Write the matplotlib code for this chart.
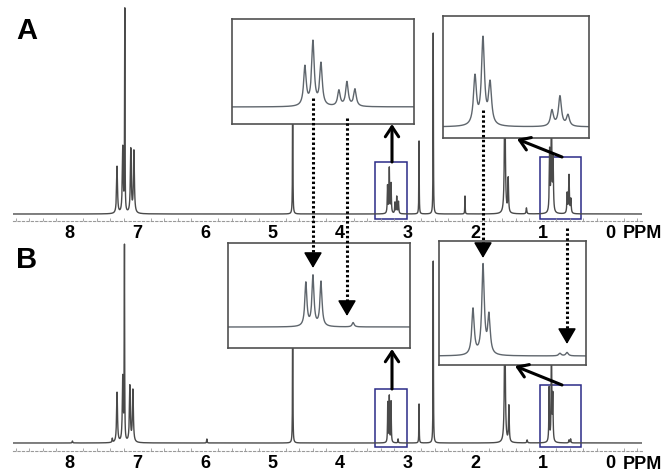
import matplotlib
matplotlib.use('Agg')
import matplotlib.pyplot as plt
import numpy as np
from matplotlib.patches import Rectangle, FancyArrowPatch
from matplotlib.lines import Line2D
from matplotlib.ticker import MultipleLocator

plt.rcParams['font.family'] = ['Liberation Sans', 'DejaVu Sans']

# spectrum A: line positions (ppm), heights, half widths
a_ppm = [7.30, 7.215, 7.185, 7.096, 7.05, 4.70,
         3.296, 3.27, 3.244, 3.186, 3.16, 3.134,
         2.83, 2.62, 2.15, 1.56, 1.51, 1.24,
         0.897, 0.87, 0.846, 0.637, 0.61, 0.583]
a_height = [47, 66, 201, 64, 62, 150,
            27.5, 45, 29.6, 11, 17, 12,
            73, 181, 18, 130, 34, 6,
            61, 109, 52, 20, 38, 14]
a_width = [0.008, 0.008, 0.003, 0.008, 0.008, 0.003,
           0.005, 0.005, 0.005, 0.005, 0.005, 0.005,
           0.003, 0.003, 0.003, 0.008, 0.006, 0.006,
           0.006, 0.006, 0.006, 0.006, 0.006, 0.006]

# spectrum B
b_ppm = [7.96, 7.37, 7.30, 7.215, 7.19, 7.11, 7.065, 5.97, 4.70,
         3.293, 3.27, 3.244, 3.14,
         2.83, 2.62, 1.56, 1.50, 1.23,
         0.904, 0.87, 0.85, 0.61, 0.586]
b_height = [2, 4, 50, 65, 192, 56, 52, 4, 150,
            40, 46, 41, 4,
            39, 182, 130, 36, 3,
            54, 105, 45, 3, 4]
b_width = [0.005, 0.005, 0.008, 0.008, 0.003, 0.008, 0.008, 0.004, 0.003,
           0.004, 0.004, 0.004, 0.004,
           0.003, 0.003, 0.008, 0.006, 0.006,
           0.005, 0.005, 0.005, 0.005, 0.005]

ticks = [0, 1, 2, 3, 4, 5, 6, 7, 8]

W, H = 664, 473


def spectrum(x, ppm, height, width):
    y = np.zeros_like(x)
    for p, h, w in zip(ppm, height, width):
        y += h / (1 + ((x - p) / w) ** 2)
    return y


def rect(x0, y0, x1, y1):
    return [x0 / W, 1 - y1 / H, (x1 - x0) / W, (y1 - y0) / H]


def px(x, y):
    return (x / W, 1 - y / H)


fig = plt.figure(figsize=(W / 100, H / 100), dpi=100)

xs = np.linspace(-0.5, 8.9, 40000)


def main_panel(box, ylim, ppm, height, width, boxes):
    ax = fig.add_axes(rect(*box))
    ax.plot(xs, spectrum(xs, ppm, height, width), color='#4a4a4a', lw=1.0)
    ax.set_xlim(8.84, -0.47)
    ax.set_ylim(*ylim)
    ax.patch.set_visible(False)
    for s in ['top', 'left', 'right']:
        ax.spines[s].set_visible(False)
    ax.spines['bottom'].set_linestyle((0, (2, 2)))
    ax.spines['bottom'].set_color('#9a9a9a')
    ax.spines['bottom'].set_linewidth(0.8)
    ax.set_yticks([])
    ax.set_xticks(ticks)
    ax.set_xticklabels([str(t) for t in ticks])
    ax.xaxis.set_minor_locator(MultipleLocator(0.2))
    ax.tick_params(axis='x', which='major', length=0, pad=3, labelsize=13)
    ax.tick_params(axis='x', which='minor', length=2, width=0.6, color='#9a9a9a', direction='in')
    for lab in ax.get_xticklabels():
        lab.set_fontweight('bold')
    h_px = box[3] - box[1]
    ax.text(-0.19, -17.5 / h_px, 'PPM', transform=ax.get_xaxis_transform(),
            va='baseline', ha='left', fontsize=13, fontweight='bold', clip_on=False)
    for (l, r, b, t) in boxes:
        ax.add_patch(Rectangle((r, b), l - r, t - b, fill=False, ec='#2b2b88', lw=1.1))
    return ax


def inset(box, xlim, ylim, ppm, height, width):
    ax = fig.add_axes(rect(*box))
    xi = np.linspace(xlim[1] - 0.05, xlim[0] + 0.05, 3000)
    ax.plot(xi, spectrum(xi, ppm, height, width), color='#5f666d', lw=1.0)
    ax.set_xlim(*xlim)
    ax.set_ylim(*ylim)
    ax.set_xticks([])
    ax.set_yticks([])
    for s in ax.spines.values():
        s.set_color('#505050')
        s.set_linewidth(1.2)
    return ax


main_panel((13, 5, 642, 221), (-7, 209), a_ppm, a_height, a_width,
           [(3.482, 3.008, -5, 52), (1.040, 0.433, -5, 57)])
main_panel((13, 236, 642, 451), (-8, 207), b_ppm, b_height, b_width,
           [(3.482, 3.008, -4, 54), (1.040, 0.433, -4, 58)])

inset((232, 19, 414, 124), (3.532, 2.943), (-12.0, 62.0), a_ppm, a_height, a_width)
inset((443, 16, 589, 138), (1.005, 0.512), (-14.0, 140.5), a_ppm, a_height, a_width)
inset((228, 243, 410, 348), (3.545, 2.956), (-19.3, 77.3), b_ppm, b_height, b_width)
inset((439, 241, 586, 365), (1.019, 0.522), (-10.6, 135.3), b_ppm, b_height, b_width)

fig.text(16 / W, 1 - 31 / H, 'A', fontsize=21, fontweight='bold', va='center', ha='left')
fig.text(16 / W, 1 - 260 / H, 'B', fontsize=21, fontweight='bold', va='center', ha='left')

# solid arrows from boxes to insets
for a, b in [((392, 162), (392, 124)), ((392, 389), (392, 349)),
             ((562, 157), (517, 139)), ((562, 385), (515, 366))]:
    fig.add_artist(FancyArrowPatch(px(*a), px(*b), transform=fig.transFigure,
                                   arrowstyle='->,head_length=0.45,head_width=0.3',
                                   mutation_scale=16, lw=2.2, color='k',
                                   shrinkA=0, shrinkB=0))

# dotted arrows from A to B
for x, y0, y1 in [(313, 98, 268), (347, 118, 316), (483, 110, 258), (567, 228, 344)]:
    fig.add_artist(Line2D([x / W, x / W], [1 - y0 / H, 1 - (y1 - 6) / H],
                          transform=fig.transFigure, color='k', lw=2.2,
                          linestyle=(0, (0.8, 0.8))))
    fig.add_artist(FancyArrowPatch(px(x, y1 - 12), px(x, y1), transform=fig.transFigure,
                                   arrowstyle='-|>,head_length=0.6,head_width=0.35',
                                   mutation_scale=16, lw=1.2, color='k',
                                   shrinkA=0, shrinkB=0))

fig.savefig('out.png', dpi=100)
